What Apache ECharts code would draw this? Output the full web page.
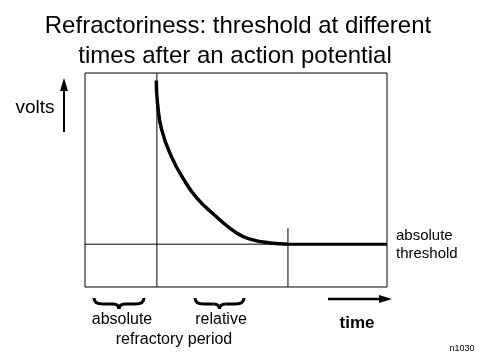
<!DOCTYPE html>
<html><head><meta charset="utf-8">
<script src="https://cdn.jsdelivr.net/npm/echarts@6/dist/echarts.min.js"></script>
<style>html,body{margin:0;padding:0;background:#fff}#c{width:479px;height:359px}</style>
</head><body><div id="c"></div>
<script>
// time (arbitrary units, 0..10) and threshold (arbitrary volts, 0..100)
const curveTime = [2.36, 2.40, 2.54, 2.87, 3.26, 3.70, 4.25, 5.02, 5.56, 6.13, 6.72];
const curveThreshold = [96.5, 86.0, 73.4, 60.7, 50.5, 41.6, 34.1, 25.2, 22.0, 20.6, 20.0];
const absoluteThreshold = 20;
const absoluteEnd = 2.38;   // end of absolute refractory period
const relativeEnd = 6.72;   // end of relative refractory period
const relativeMarkTop = 27.6;
const timeRange = [0, 10];
const voltRange = [0, 100];
const titleLines = ['Refractoriness: threshold at different', 'times after an action potential'];

const FONT = "'Liberation Sans', Arial, sans-serif";
const chart = echarts.init(document.getElementById('c'), null, {renderer: 'canvas'});

function brace(x0, x1, y) {
  const cx = (x0 + x1) / 2;
  const st = { stroke: '#000', lineWidth: 3, fill: null };
  return [
    { type: 'bezierCurve', silent: true, shape: { x1: x0, y1: y, cpx1: x0, cpy1: y + 6, x2: x0 + 9, y2: y + 6 }, style: st },
    { type: 'line', silent: true, shape: { x1: x0 + 9, y1: y + 6, x2: cx - 6, y2: y + 6 }, style: st },
    { type: 'bezierCurve', silent: true, shape: { x1: cx - 6, y1: y + 6, cpx1: cx, cpy1: y + 6, x2: cx, y2: y + 11 }, style: st },
    { type: 'bezierCurve', silent: true, shape: { x1: cx, y1: y + 11, cpx1: cx, cpy1: y + 6, x2: cx + 6, y2: y + 6 }, style: st },
    { type: 'line', silent: true, shape: { x1: cx + 6, y1: y + 6, x2: x1 - 9, y2: y + 6 }, style: st },
    { type: 'bezierCurve', silent: true, shape: { x1: x1 - 9, y1: y + 6, cpx1: x1, cpy1: y + 6, x2: x1, y2: y }, style: st }
  ];
}
function txt(x, y, text, size, extra) {
  return Object.assign({ type: 'text', x, y, silent: true,
    style: Object.assign({ text, font: `${size}px ${FONT}`, fill: '#000', align: 'center', verticalAlign: 'middle' }, extra || {}) });
}

const option = {
  animation: false,
  backgroundColor: '#fff',
  grid: { left: 85, top: 73, width: 302, height: 214, show: true, borderColor: '#000', borderWidth: 1, backgroundColor: 'transparent' },
  xAxis: { type: 'value', min: timeRange[0], max: timeRange[1], show: false },
  yAxis: { type: 'value', min: voltRange[0], max: voltRange[1], show: false },
  series: [
    { type: 'line', symbol: 'none', lineStyle: { color: '#000', width: 1 },
      data: [[timeRange[0], absoluteThreshold], [timeRange[1], absoluteThreshold]] },
    { type: 'line', symbol: 'none', lineStyle: { color: '#000', width: 1 },
      data: [[absoluteEnd, voltRange[0]], [absoluteEnd, voltRange[1]]] },
    { type: 'line', symbol: 'none', lineStyle: { color: '#000', width: 1 },
      data: [[relativeEnd, voltRange[0]], [relativeEnd, relativeMarkTop]] },
    { type: 'line', symbol: 'none', smooth: 0.5, lineStyle: { color: '#000', width: 3.5 },
      data: curveTime.map((t, i) => [t, curveThreshold[i]]) },
    { type: 'line', symbol: 'none', lineStyle: { color: '#000', width: 3 },
      data: [[relativeEnd, absoluteThreshold], [timeRange[1], absoluteThreshold]] }
  ],
  graphic: [
    txt(238, 26, titleLines[0], 24),
    txt(235, 56, titleLines[1], 24),
    txt(35, 108, 'volts', 19),
    { type: 'line', silent: true, shape: { x1: 64, y1: 132, x2: 64, y2: 86 }, style: { stroke: '#000', lineWidth: 2 } },
    { type: 'polygon', silent: true, shape: { points: [[64, 78], [60, 91], [68, 91]] }, style: { fill: '#000' } },
    txt(396, 236, 'absolute', 15, { align: 'left' }),
    txt(396, 254, 'threshold', 15, { align: 'left' }),
    ...brace(94, 144, 298),
    ...brace(195, 244, 298),
    txt(122, 320, 'absolute', 16),
    txt(221, 320, 'relative', 16),
    txt(174, 340, 'refractory period', 16),
    { type: 'line', silent: true, shape: { x1: 328, y1: 299, x2: 384, y2: 299 }, style: { stroke: '#000', lineWidth: 2.5 } },
    { type: 'polygon', silent: true, shape: { points: [[392, 299], [379, 295], [379, 303]] }, style: { fill: '#000' } },
    txt(357, 323, 'time', 17, { font: `bold 17px ${FONT}` }),
    txt(462, 349, 'n1030', 9)
  ]
};
chart.setOption(option);
</script></body></html>
